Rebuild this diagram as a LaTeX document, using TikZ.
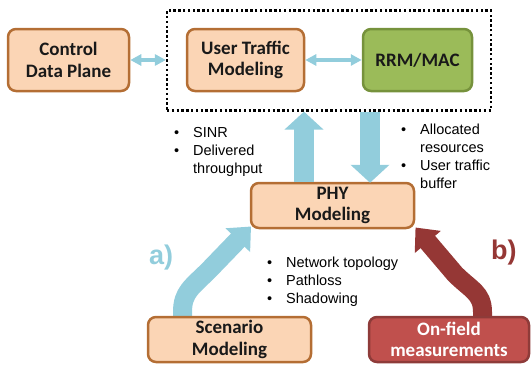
\documentclass[tikz,border=0pt]{standalone}
\usepackage{fontspec}
\setmainfont{Carlito}
\newfontfamily\arialf{Liberation Sans}
\usetikzlibrary{arrows.meta,calc}
\definecolor{boxfill}{HTML}{FBD5B5}
\definecolor{boxdraw}{HTML}{B46E34}
\definecolor{greenfill}{HTML}{9BBB59}
\definecolor{greendraw}{HTML}{76923C}
\definecolor{redfill}{HTML}{C0504D}
\definecolor{reddraw}{HTML}{8E3B39}
\definecolor{arrowblue}{HTML}{92CDDC}
\definecolor{arrowred}{HTML}{953735}
\newcommand{\mybullets}[1]{\begin{tabular}[t]{@{}p{19pt}@{}l@{}}#1\end{tabular}}
\begin{document}
\begin{tikzpicture}[x=1pt,y=-1pt,
  box/.style={draw=boxdraw, fill=boxfill, line width=2.5pt, rounded corners=8pt,
    align=center, inner sep=0pt, text=black!90,
    font=\fontsize{19}{21.5}\selectfont\bfseries},
  bigarrow/.style={line width=20pt, draw=arrowblue, -{Triangle[length=18pt,width=38pt]}},
  curvearrow/.style={line width=19pt, -{Triangle[length=19pt,width=33pt]}},
  smallarrow/.style={line width=4pt, draw=arrowblue,
    {Triangle[length=11pt,width=11pt]}-{Triangle[length=11pt,width=11pt]}},
  bullets/.style={inner sep=0pt, anchor=base west, align=left,
    font=\arialf\fontsize{14.5}{18}\selectfont},
  letter/.style={inner sep=0pt, anchor=base west,
    font=\arialf\bfseries\fontsize{27}{30}\selectfont}
]
\useasboundingbox (0,0) rectangle (532,367);

% dotted frame
\node[draw, line width=2.2pt, dash pattern=on 2.4pt off 2.4pt,
  minimum width=324pt, minimum height=100pt, inner sep=0pt] (frame) at (329,60.5) {};

% coordinates for vertical arrows
\coordinate (upx) at (304,0);
\coordinate (downx) at (370,0);

% boxes
\node[box, minimum width=121pt, minimum height=62pt] (ctrl) at (68.5,60) {Control\\Data Plane};
\node[box, minimum width=117pt, minimum height=62pt] (user) at (245.5,60) {User Traffic\\Modeling};
\node[box, draw=greendraw, fill=greenfill, minimum width=109pt, minimum height=62pt] (rrm) at (417.5,60) {RRM/MAC};
\node[box, minimum width=163pt, minimum height=45pt] (phy) at (332.5,205.5) {PHY\\Modeling};

% curved arrows (drawn before bottom boxes)
\coordinate (atip) at (251,226.5);
\coordinate (btip) at (415.5,227.5);
\draw[curvearrow, draw=arrowblue] (182.5,320) -- (182.5,312)
  .. controls (182.5,292) and (192,287) .. (209,270) -- (atip);
\draw[curvearrow, draw=arrowred] (482.5,320) -- (482.5,312)
  .. controls (482.5,293) and (471,290) .. (455,274) -- (btip);

\node[box, minimum width=163pt, minimum height=45pt] (scen) at (229.5,339.5) {Scenario\\Modeling};
\node[box, draw=reddraw, fill=redfill, text=white, minimum width=160pt, minimum height=45pt] (field) at (449,339.5) {On-field\\measurements};

% small double arrows
\draw[smallarrow] (ctrl.east) -- (ctrl.east -| frame.west);
\draw[smallarrow] (user.east) -- (rrm.west);

% big vertical arrows
\draw[bigarrow] (upx |- phy.north) -- (upx |- frame.south);
\draw[bigarrow] (downx |- frame.south) -- ($(downx |- phy.north)+(0,1)$);

% bullet texts
\node[bullets] (lt) at (174,137.7) {\mybullets{\textbullet & SINR\\ \textbullet & Delivered\\ & throughput}};
\node[bullets] (rt) at (401,134) {\mybullets{\textbullet & Allocated\\ & resources\\ \textbullet & User traffic\\ & buffer}};
\node[bullets] (bt) at (267,267.3) {\mybullets{\textbullet & Network topology\\ \textbullet & Pathloss\\ \textbullet & Shadowing}};

% letters
\node[letter, text=arrowblue] (la) at (149,264) {a)};
\node[letter, text=arrowred] (lb) at (491,259.5) {b)};
\end{tikzpicture}
\end{document}
